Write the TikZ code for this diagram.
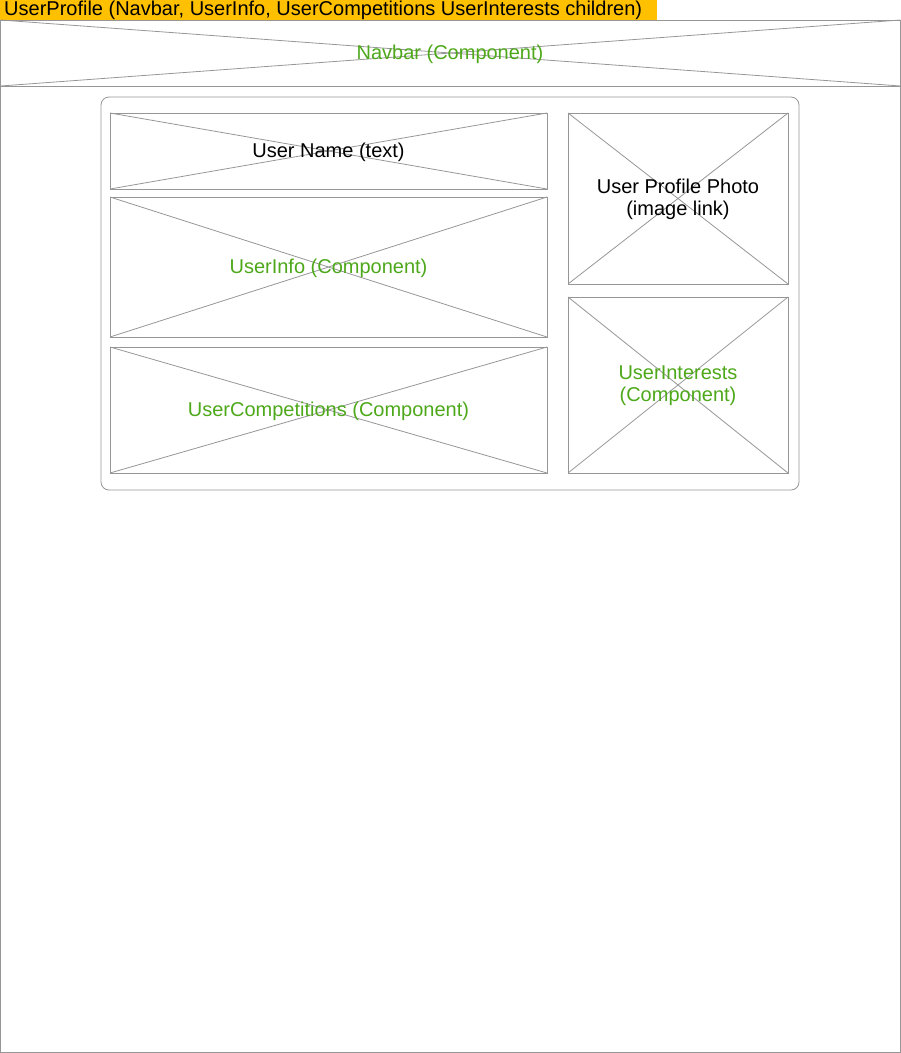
\documentclass[tikz,border=0pt]{standalone}
\usepackage{fontspec}
\setmainfont{Liberation Sans}
\usetikzlibrary{calc}
\definecolor{tagorange}{RGB}{255,192,0}
\definecolor{compgreen}{RGB}{77,168,26}
\definecolor{wiregray}{RGB}{150,150,150}
\begin{document}
\begin{tikzpicture}[x=1pt, y=-1pt, wire/.style={draw=wiregray, line width=0.8pt},
  plain/.style={font=\fontsize{20}{22}\selectfont, text=black, align=center, inner sep=0pt},
  comp/.style={plain, text=compgreen}]

\useasboundingbox (0,0) rectangle (901,1053);

% Title tag
\fill[tagorange] (0,0) rectangle (657,20);
\node[plain, anchor=west] (title) at (4,10.5) {UserProfile (Navbar, UserInfo, UserCompetitions UserInterests children)};

% Page frame and navbar
\draw[wire] (0.5,20) rectangle (900.5,1052.5);
\draw[wire] (0.5,20) rectangle (900.5,86);
\draw[wire] (0.5,20) -- (900.5,86);
\draw[wire] (0.5,86) -- (900.5,20);
\node[comp] (navbar) at (450,54) {Navbar (Component)};

% Profile card
\draw[wire, rounded corners=8pt] (101,97) rectangle (799,490);

% Define the corners of the boxes in the card
\coordinate (nameA) at (110,113);
\coordinate (nameB) at (547,189);
\coordinate (infoA) at (110,197);
\coordinate (infoB) at (547,337);
\coordinate (compA) at (110,347);
\coordinate (compB) at (547,473);
\coordinate (photoA) at (568,113);
\coordinate (photoB) at (788,284);
\coordinate (intA) at (568,297);
\coordinate (intB) at (788,473);

% Draw the boxes with their crosses
\draw[wire] (nameA) rectangle (nameB);
\draw[wire] (nameA) -- (nameB);
\draw[wire] (nameA |- nameB) -- (nameB |- nameA);

\draw[wire] (infoA) rectangle (infoB);
\draw[wire] (infoA) -- (infoB);
\draw[wire] (infoA |- infoB) -- (infoB |- infoA);

\draw[wire] (compA) rectangle (compB);
\draw[wire] (compA) -- (compB);
\draw[wire] (compA |- compB) -- (compB |- compA);

\draw[wire] (photoA) rectangle (photoB);
\draw[wire] (photoA) -- (photoB);
\draw[wire] (photoA |- photoB) -- (photoB |- photoA);

\draw[wire] (intA) rectangle (intB);
\draw[wire] (intA) -- (intB);
\draw[wire] (intA |- intB) -- (intB |- intA);

% Labels of the boxes
\node[plain] (username) at ($(nameA)!0.5!(nameB)+(0,1)$) {User Name (text)};
\node[comp] (userinfo) at ($(infoA)!0.5!(infoB)+(0,1)$) {UserInfo (Component)};
\node[comp] (usercomp) at ($(compA)!0.5!(compB)+(0,1)$) {UserCompetitions (Component)};
\node[plain] (userphoto) at ($(photoA)!0.5!(photoB)+(0,1)$) {User Profile Photo\\(image link)};
\node[comp] (userint) at ($(intA)!0.5!(intB)+(0,1)$) {UserInterests\\(Component)};

\end{tikzpicture}
\end{document}
